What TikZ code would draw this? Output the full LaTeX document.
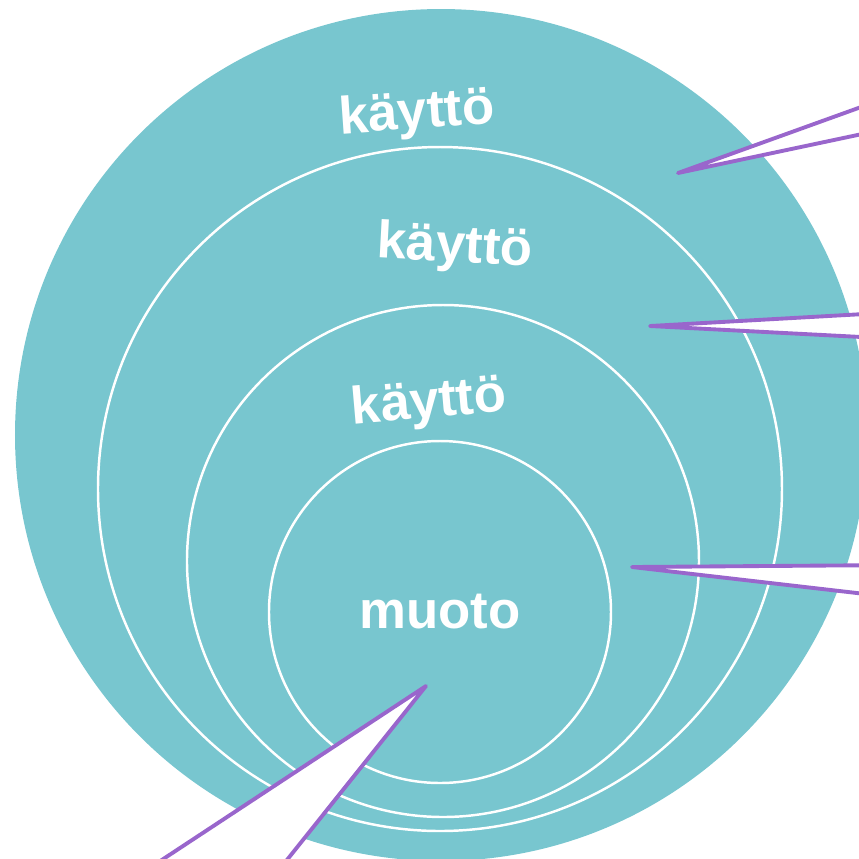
\documentclass[tikz,border=0pt]{standalone}
\usepackage{fontspec}
\setmainfont{Liberation Sans}
\definecolor{teal1}{HTML}{78C6CF}
\definecolor{purp1}{HTML}{9966CC}
\tikzset{
  ring/.style={draw=white, line width=0.7pt},
  pointer/.style={draw=purp1, fill=white, line width=1.1pt, line join=round, line cap=round},
  word/.style={text=white, font=\fontsize{15}{15}\selectfont\bfseries, inner sep=0pt}
}
\begin{document}
\begin{tikzpicture}[x=0.01cm, y=-0.01cm]
			\useasboundingbox (0,0) rectangle (859,859);
			\clip (0,0) rectangle (859,859);
			\fill[teal1] (441,435) circle (426);
			\draw[ring] (440,489) circle (342);
			\draw[ring] (443,561) circle (256);
			\draw[ring] (440,612) circle (171);
			\node[word, rotate=4] (use1) at (417,115) {käyttö};
			\node[word, rotate=-3] (use2) at (455,248) {käyttö};
			\node[word, rotate=5] (use3) at (429,404) {käyttö};
			\node[word] (form) at (440,612) {muoto};
			\coordinate (tip1) at (678,173);
			\coordinate (tip2) at (650,326);
			\coordinate (tip3) at (632,567);
			\coordinate (tip4) at (426,686);
			\draw[pointer] (tip1)--(900,93)--(900,126)--cycle;
			\draw[pointer] (tip2)--(900,312)--(900,339)--cycle;
			\draw[pointer] (tip3)--(900,565)--(900,598)--cycle;
			\draw[pointer] (tip4)--(101,900)--(255,900)--cycle;
		\end{tikzpicture}
\end{document}
